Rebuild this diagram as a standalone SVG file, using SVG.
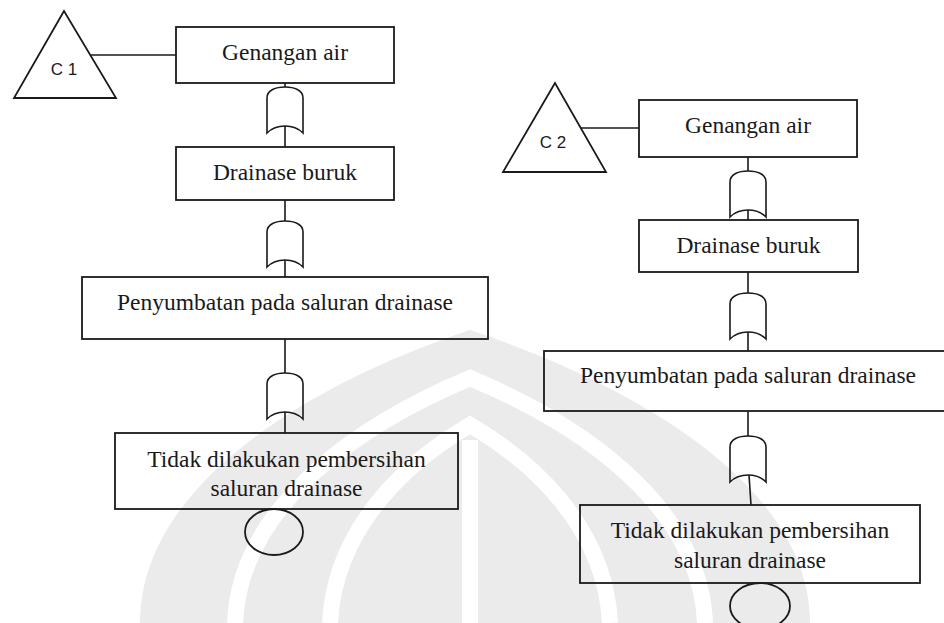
<svg xmlns="http://www.w3.org/2000/svg" width="944" height="623" viewBox="0 0 944 623">
<style>
.box{fill:none;stroke:#1a1a1a;stroke-width:1.8}
.ln{fill:none;stroke:#1a1a1a;stroke-width:1.6}
.t{font-size:23.5px;fill:#1a1a1a;text-anchor:middle}
.s{font-size:17px;fill:#1a1a1a;text-anchor:middle}
.wm{fill:#ebebeb}
.wb{fill:none;stroke:#fff;stroke-width:16}
</style>
<defs>
<path id="gate" d="M -18,11 C -18,3 -9,0 0,0 C 9,0 18,3 18,11 L 18,46 C 12,40 6,39 0,39 C -6,39 -12,40 -18,46 Z" fill="none" stroke="#1a1a1a" stroke-width="1.6"/>
</defs>
<rect width="944" height="623" fill="#fff"/>
<g id="watermark">
<path class="wm" d="M 140 623 C 140 480 320 380 470 330 C 620 380 810 480 810 623 Z"/>
<path class="wb" d="M 235 623 C 240 500 370 420 470 378 C 570 420 700 500 705 623"/>
<path class="wb" d="M 330 623 C 335 525 410 460 470 425 C 530 460 605 525 610 623"/>
<path class="wb" d="M 470 440 L 470 623"/>
</g>
<g id="connectors">
<path class="ln" d="M 91 55 L 176 55"/>
<path class="ln" d="M 285 83 L 285 87 M 285 126 L 285 147"/>
<path class="ln" d="M 285 200 L 285 221 M 285 260 L 285 277"/>
<path class="ln" d="M 285 339 L 285 373 M 285 412 L 285 433"/>
<path class="ln" d="M 581 128 L 639 128"/>
<path class="ln" d="M 748 157 L 748 171 M 748 210 L 748 220"/>
<path class="ln" d="M 748 272 L 748 293 M 748 332 L 748 351"/>
<path class="ln" d="M 748 411 L 748 436 M 749 475 L 751 505"/>
<use href="#gate" x="285" y="87"/>
<use href="#gate" x="285" y="221"/>
<use href="#gate" x="285" y="373"/>
<use href="#gate" x="748" y="171"/>
<use href="#gate" x="748" y="293"/>
<use href="#gate" x="748" y="436"/>
</g>
<g font-family="Liberation Sans, Arial, sans-serif">
<g id="c1">
<polygon class="box" points="64,11 14,98 116,98"/>
<text class="s" x="64" y="75">C 1</text>
</g>
<g id="c2">
<polygon class="box" points="555,83 503,172 606,172"/>
<text class="s" x="553" y="148">C 2</text>
</g>
</g>
<g font-family="Liberation Serif, Times New Roman, serif">
<g id="l-genangan">
<rect class="box" x="176" y="27" width="218" height="56"/>
<text class="t" x="285" y="60">Genangan air</text>
</g>
<g id="l-drainase">
<rect class="box" x="176" y="147" width="218" height="53"/>
<text class="t" x="285" y="180">Drainase buruk</text>
</g>
<g id="l-penyumbatan">
<rect class="box" x="82" y="277" width="406" height="62"/>
<text class="t" x="285" y="310">Penyumbatan pada saluran drainase</text>
</g>
<g id="l-tidak">
<rect class="box" x="115" y="433" width="343" height="76"/>
<text class="t" x="286.5" y="467">Tidak dilakukan pembersihan</text>
<text class="t" x="286.5" y="496">saluran drainase</text>
</g>
<g id="l-basic">
<ellipse class="box" cx="274" cy="532" rx="29" ry="23"/>
</g>
<g id="r-genangan">
<rect class="box" x="639" y="100" width="218" height="57"/>
<text class="t" x="748" y="133">Genangan air</text>
</g>
<g id="r-drainase">
<rect class="box" x="639" y="220" width="219" height="52"/>
<text class="t" x="748.5" y="253">Drainase buruk</text>
</g>
<g id="r-penyumbatan">
<rect class="box" x="544" y="351" width="408" height="60"/>
<text class="t" x="748" y="383">Penyumbatan pada saluran drainase</text>
</g>
<g id="r-tidak">
<rect class="box" x="580" y="505" width="340" height="78"/>
<text class="t" x="750" y="538">Tidak dilakukan pembersihan</text>
<text class="t" x="750" y="568">saluran drainase</text>
</g>
<g id="r-basic">
<ellipse class="box" cx="760" cy="606" rx="30" ry="23"/>
</g>
</g>
</svg>
